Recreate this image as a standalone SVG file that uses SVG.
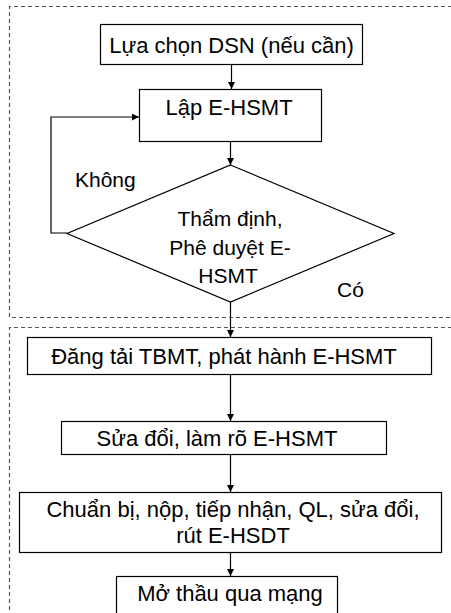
<svg xmlns="http://www.w3.org/2000/svg" width="451" height="613" viewBox="0 0 451 613">
<defs>
<style>
.box{fill:#fff;stroke:#000;stroke-width:1.2}
.t{font-family:"Liberation Sans",Arial,sans-serif;font-size:22px;fill:#000;text-anchor:middle}
.lbl{font-family:"Liberation Sans",Arial,sans-serif;font-size:21px;fill:#000}
.dash{fill:none;stroke:#555;stroke-width:1.2;stroke-dasharray:4 3}
.c{fill:none;stroke:#000;stroke-width:1.2}
</style>
<marker id="ah" viewBox="0 0 10 10" refX="10" refY="5" markerWidth="7" markerHeight="7" markerUnits="userSpaceOnUse" orient="auto">
<path d="M0,0 L10,5 L0,10 z" fill="#000"/>
</marker>
</defs>
<rect width="451" height="613" fill="#fff"/>
<g id="frames">
<path class="dash" d="M452 6.5 H9.5 V317.5 H452"/>
<path class="dash" d="M452 327.5 H9.5 V614"/>
</g>
<g id="connectors">
<path class="c" d="M231.5 64 V89" marker-end="url(#ah)"/>
<path class="c" d="M230.5 141 V165" marker-end="url(#ah)"/>
<path class="c" d="M67 233 H51 V117 H139" marker-end="url(#ah)"/>
<path class="c" d="M230.5 302 V337" marker-end="url(#ah)"/>
<path class="c" d="M230.5 374 V421" marker-end="url(#ah)"/>
<path class="c" d="M230.5 454 V492" marker-end="url(#ah)"/>
<path class="c" d="M230.5 552 V576" marker-end="url(#ah)"/>
</g>
<g id="n1"><rect class="box" x="100.5" y="24.5" width="262" height="40"/><text class="t" x="231.5" y="53">Lựa chọn DSN (nếu cần)</text></g>
<g id="n2"><rect class="box" x="139.5" y="89.5" width="182" height="52"/><text class="t" x="229" y="115">Lập E-HSMT</text></g>
<g id="n3"><path class="box" d="M230.5 165 L394 233.5 L230.5 302 L67 233.5 Z"/>
<text class="t" x="230" y="226" style="font-size:21px">Thẩm định,</text>
<text class="t" x="230" y="255" style="font-size:21px">Phê duyệt E-</text>
<text class="t" x="228" y="283" style="font-size:21px">HSMT</text></g>
<g id="lblNo"><text class="lbl" x="75" y="187">Không</text></g>
<g id="lblYes"><text class="lbl" x="337" y="297">Có</text></g>
<g id="n4"><rect class="box" x="27.5" y="337.5" width="404" height="37"/><text class="t" x="224" y="364">Đăng tải TBMT, phát hành E-HSMT</text></g>
<g id="n5"><rect class="box" x="61.5" y="421.5" width="325" height="33"/><text class="t" x="217" y="446">Sửa đổi, làm rõ E-HSMT</text></g>
<g id="n6"><rect class="box" x="19.5" y="492.5" width="422" height="60"/><text class="t" x="233" y="517">Chuẩn bị, nộp, tiếp nhận, QL, sửa đổi,</text><text class="t" x="233" y="543">rút E-HSDT</text></g>
<g id="n7"><rect class="box" x="116.5" y="576.5" width="221" height="50"/><text class="t" x="230" y="601">Mở thầu qua mạng</text></g>
</svg>
